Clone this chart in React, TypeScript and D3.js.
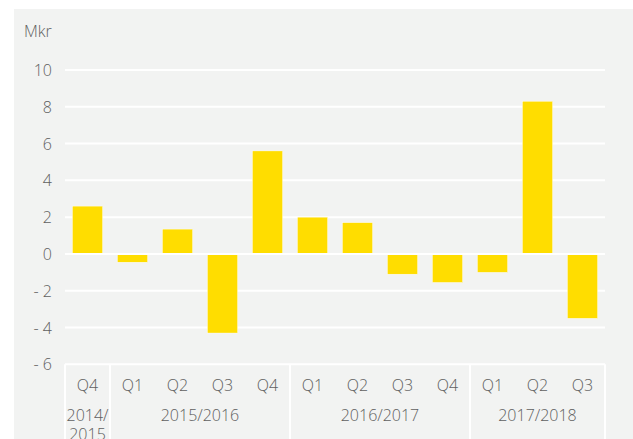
import React from "react";
import * as d3 from "d3";

const quarters = ["Q4", "Q1", "Q2", "Q3", "Q4", "Q1", "Q2", "Q3", "Q4", "Q1", "Q2", "Q3"];
const values = [2.6, -0.45, 1.35, -4.3, 5.6, 2.0, 1.7, -1.1, -1.55, -1.0, 8.3, -3.5];
const years = [
  { label: ["2014/", "2015"], start: 0, end: 1 },
  { label: ["2015/2016"], start: 1, end: 5 },
  { label: ["2016/2017"], start: 5, end: 9 },
  { label: ["2017/2018"], start: 9, end: 12 },
];
const yTicks = [-6, -4, -2, 0, 2, 4, 6, 8, 10];
const unitLabel = "Mkr";

const W = 633;
const H = 439;
const left = 65;
const right = 605;
const font = "'Open Sans', 'Noto Sans', sans-serif";
const textColor = "#606060";
const fs = 16;

export default function App() {
  const idx = quarters.map((_, i) => String(i));
  const x = d3.scaleBand<string>().domain(idx).range([left, right]).paddingInner(0.33).paddingOuter(0.165);
  const step = (right - left) / quarters.length;
  const y = d3.scaleLinear().domain([-6, 10]).range([364.3, 70]);
  const fmt = (v: number) => (v < 0 ? "- " + Math.abs(v) : String(v));

  return (
    <svg width={W} height={H} style={{ position: "absolute", left: 0, top: 0 }} fontFamily={font} fontWeight={300}>
      <rect x={0} y={0} width={W} height={H} fill="#fff" />
      <rect x={14} y={9} width={W - 14} height={H - 9} fill="#f2f3f2" />
      <text x={24} y={37} fontSize={fs} fill={textColor}>{unitLabel}</text>
      {yTicks.map((t) => (
        <g key={t}>
          {t !== 0 && (
            <line x1={left} x2={right} y1={y(t)} y2={y(t)} stroke="#fff" strokeWidth={2} />
          )}
          <text x={52} y={y(t) + 6} fontSize={fs} fill={textColor} textAnchor="end">
            {fmt(t)}
          </text>
        </g>
      ))}
      {values.map((v, i) => (
        <rect
          key={i}
          x={x(String(i))}
          width={x.bandwidth()}
          y={v >= 0 ? y(v) : y(0)}
          height={Math.abs(y(v) - y(0))}
          fill="#ffdd00"
          stroke="#fff"
          strokeWidth={0.4}
        />
      ))}
      <line x1={left} x2={right} y1={y(0)} y2={y(0)} stroke="#fff" strokeWidth={2} />
      {[0, 1, 5, 9, 12].map((b) => (
        <line key={b} x1={left + b * step} x2={left + b * step} y1={y(-6)} y2={H} stroke="#fff" strokeWidth={2} />
      ))}
      {quarters.map((q, i) => (
        <text key={i} x={(x(String(i)) as number) + x.bandwidth() / 2} y={391} fontSize={fs} fill={textColor} textAnchor="middle">
          {q}
        </text>
      ))}
      {years.map((yr, i) => (
        <text key={i} x={left + ((yr.start + yr.end) / 2) * step} y={421} fontSize={fs} fill={textColor} textAnchor="middle">
          {yr.label.map((l, j) => (
            <tspan key={j} x={left + ((yr.start + yr.end) / 2) * step} dy={j === 0 ? 0 : 18.5}>
              {l}
            </tspan>
          ))}
        </text>
      ))}
    </svg>
  );
}
